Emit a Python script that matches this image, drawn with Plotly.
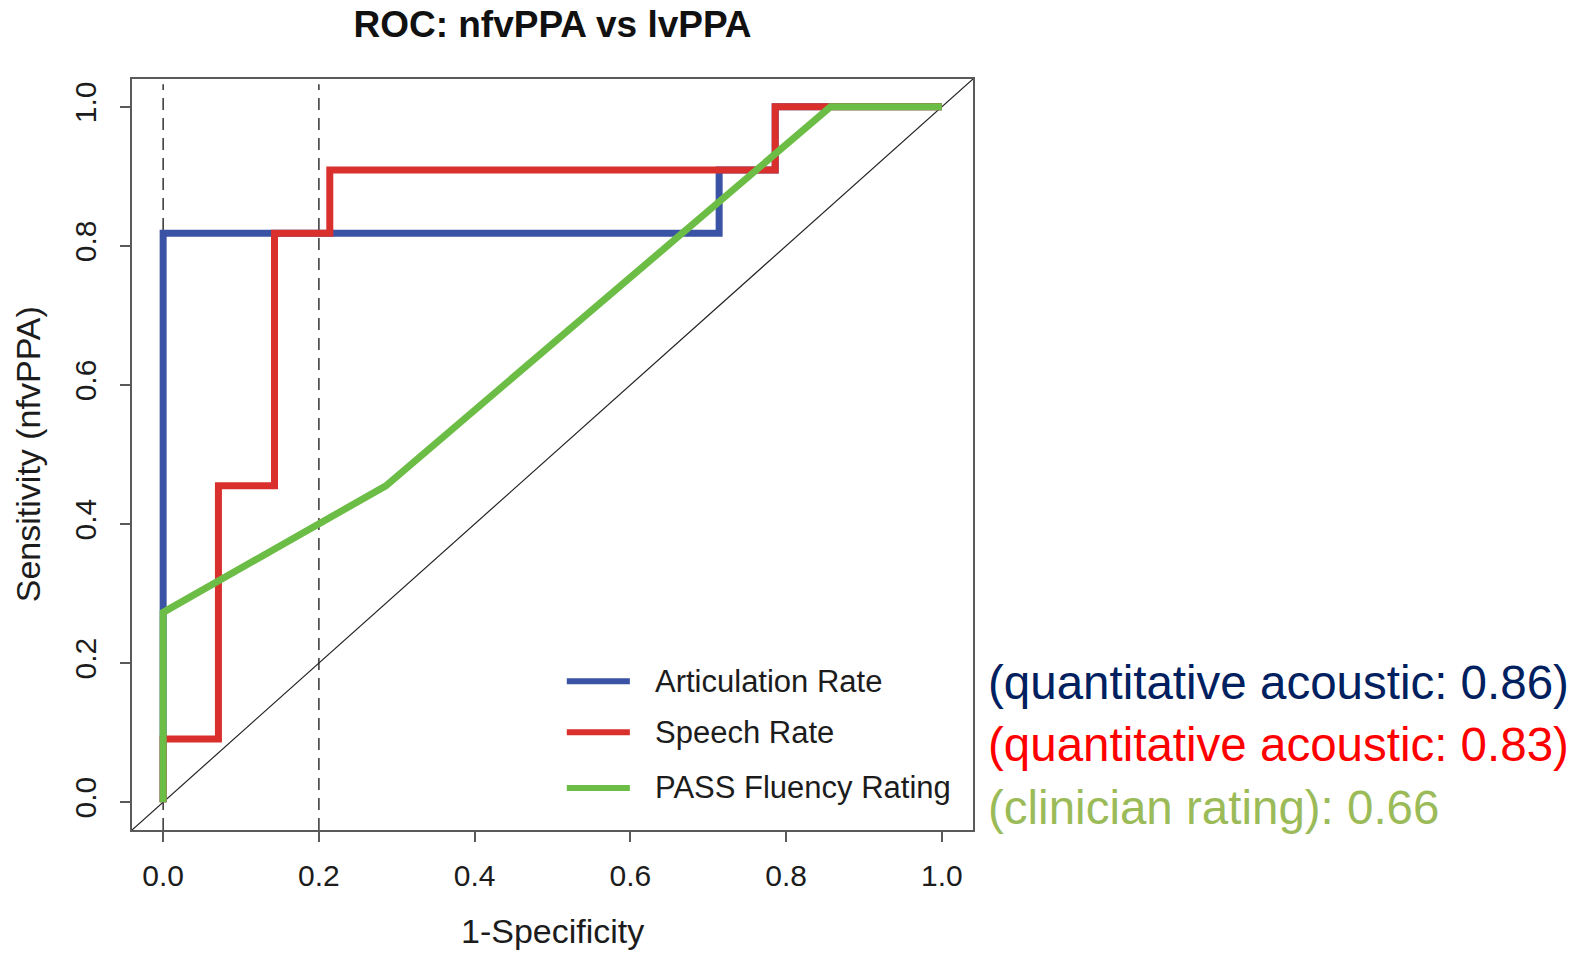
import plotly.graph_objects as go

# ROC curves (1 - specificity, sensitivity); 11 nfvPPA vs 14 lvPPA cases
artic_fpr = [0.0, 0.0, 0.714, 0.714, 0.786, 0.786, 1.0]
artic_tpr = [0.0, 0.818, 0.818, 0.909, 0.909, 1.0, 1.0]

speech_fpr = [0.0, 0.0, 0.071, 0.071, 0.143, 0.143, 0.214, 0.214, 0.786, 0.786, 1.0]
speech_tpr = [0.0, 0.091, 0.091, 0.455, 0.455, 0.818, 0.818, 0.909, 0.909, 1.0, 1.0]

pass_fpr = [0.0, 0.0, 0.286, 0.857, 1.0]
pass_tpr = [0.0, 0.273, 0.455, 1.0, 1.0]

series_names = ["Articulation Rate", "Speech Rate", "PASS Fluency Rating"]
series_colors = ["#3A53A4", "#D9302E", "#6CBD45"]

auc_notes = ["(quantitative acoustic: 0.86)", "(quantitative acoustic: 0.83)",
             "(clinician rating): 0.66"]
auc_colors = ["#002060", "#FF0000", "#9BBB59"]

fpr_cutoffs = [0.0, 0.2]
axis_range = [-0.04, 1.04]
tick_vals = [0.0, 0.2, 0.4, 0.6, 0.8, 1.0]
tick_text = ["0.0", "0.2", "0.4", "0.6", "0.8", "1.0"]

FONT = "Liberation Sans, Arial, Helvetica, sans-serif"
TXT = "#1c1c1c"
AX = "#5a5a5a"

fig = go.Figure()

# chance diagonal across the whole plotting region
fig.add_trace(go.Scatter(x=axis_range, y=axis_range, mode="lines",
                         line=dict(color="#222222", width=1.2),
                         showlegend=False, hoverinfo="skip"))

for xs, ys, name, col in zip([artic_fpr, speech_fpr, pass_fpr],
                             [artic_tpr, speech_tpr, pass_tpr],
                             series_names, series_colors):
    fig.add_trace(go.Scatter(x=xs, y=ys, mode="lines", name=name,
                             line=dict(color=col, width=7),
                             showlegend=False))

shapes = []
for c in fpr_cutoffs:
    shapes.append(dict(type="line", xref="x", yref="paper", x0=c, x1=c, y0=0, y1=0.993,
                       line=dict(color="#333333", width=1.5, dash="12px,8px"),
                       layer="below"))

annotations = []
# hand-drawn legend block inside the plot
leg_y = [0.198, 0.130, 0.056]
for name, col, ly in zip(series_names, series_colors, leg_y):
    shapes.append(dict(type="line", xref="paper", yref="paper",
                       x0=0.517, x1=0.592, y0=ly, y1=ly,
                       line=dict(color=col, width=6)))
    annotations.append(dict(xref="paper", yref="paper", x=0.620, y=ly,
                            xanchor="left", yanchor="middle", showarrow=False,
                            text=name, font=dict(family=FONT, size=31, color=TXT)))

# AUC notes to the right of the plot
note_y = [0.197, 0.114, 0.030]
for note, col, ny in zip(auc_notes, auc_colors, note_y):
    annotations.append(dict(xref="paper", yref="paper", x=1.016, y=ny,
                            xanchor="left", yanchor="middle", showarrow=False,
                            text=note, font=dict(family=FONT, size=47.5, color=col)))

# axis titles
annotations.append(dict(xref="paper", yref="paper", x=0.5, y=-0.135,
                        xanchor="center", yanchor="middle", showarrow=False,
                        text="1-Specificity", font=dict(family=FONT, size=34, color=TXT)))
annotations.append(dict(xref="paper", yref="paper", x=-0.124, y=0.5,
                        xanchor="center", yanchor="middle", showarrow=False, textangle=-90,
                        text="Sensitivity (nfvPPA)", font=dict(family=FONT, size=34, color=TXT)))

axis_common = dict(range=axis_range, tickvals=tick_vals, ticktext=tick_text,
                   showgrid=False, zeroline=False, showline=True, mirror=True,
                   linecolor=AX, linewidth=1.5, ticks="outside", ticklen=10,
                   tickcolor=AX, tickwidth=1.5,
                   tickfont=dict(family=FONT, size=30, color=TXT))

fig.update_layout(
    width=1583, height=953,
    margin=dict(l=132, r=610, t=79, b=123),
    paper_bgcolor="white", plot_bgcolor="white",
    title=dict(text="<b>ROC: nfvPPA vs lvPPA</b>", x=0.5, xref="paper",
               xanchor="center", y=1 - 24 / 953, yref="container", yanchor="middle",
               font=dict(family=FONT, size=37, color="#111111")),
    xaxis=dict(**axis_common, ticklabelstandoff=8),
    yaxis=dict(**axis_common, tickangle=-90, ticklabelstandoff=12),
    shapes=shapes, annotations=annotations,
)

fig.write_html("out.html")
